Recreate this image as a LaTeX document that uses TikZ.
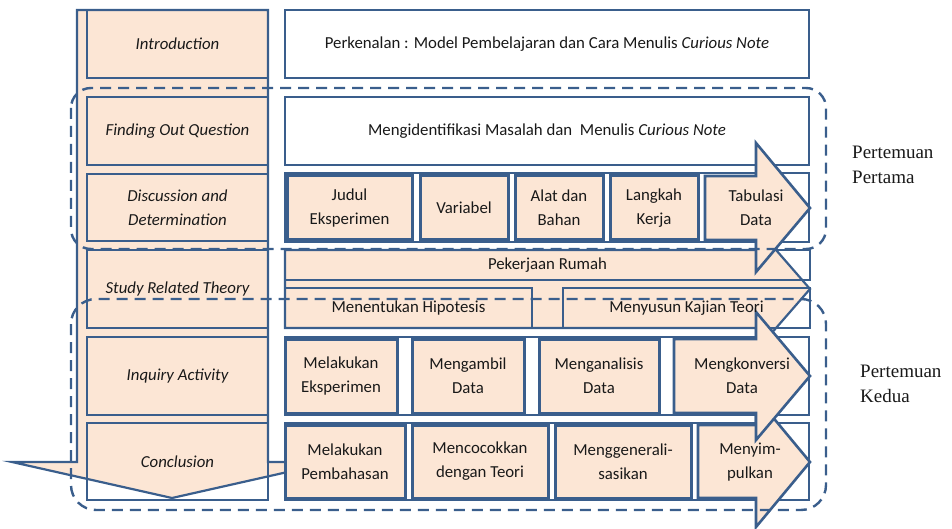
\documentclass[tikz,border=0pt]{standalone}
\usepackage{fontspec}
\setmainfont{Carlito}
\newfontfamily\serifside{Liberation Serif}
\definecolor{bl}{RGB}{58,94,140}
\definecolor{peach}{RGB}{252,230,213}
\definecolor{ink}{RGB}{25,25,25}
\begin{document}
\begin{tikzpicture}[x=1pt,y=-1pt,
  tx/.style={font=\fontsize{16.8}{24}\selectfont, text=ink, align=center, inner sep=0pt},
  ltx/.style={font=\fontsize{16.8}{24}\selectfont\itshape, text=ink, align=center, inner sep=0pt},
  lbox/.style={draw=bl, line width=2.8pt, minimum width=181pt, inner sep=0pt},
  wbox/.style={draw=bl, line width=2.4pt, fill=white, minimum width=524pt, inner sep=0pt},
  pbox/.style={draw=bl, line width=3pt, fill=peach, inner sep=0pt},
  obox/.style={draw=bl, line width=2.6pt, inner sep=0pt},
  arr/.style={draw=bl, line width=2.2pt, fill=peach, line join=miter},
  dbox/.style={draw=bl, line width=2.4pt, dash pattern=on 11pt off 7pt},
  side/.style={font=\serifside\fontsize{19}{25}\selectfont, text=ink, align=left, inner sep=0pt, anchor=west},
]
\useasboundingbox (0,0) rectangle (952,529);

% big down arrow (left column)
\draw[arr] (77,10) -- (268,10) -- (268,462) -- (332,462) -- (172,498) -- (12,462) -- (77,462) -- cycle;

% left boxes
\node[lbox, minimum height=68pt] (intro) at (177.5,44) {};
\node[lbox, minimum height=68pt] (find) at (177.5,131) {};
\node[lbox, minimum height=67pt] (disc) at (177.5,207.5) {};
\node[lbox, minimum height=78pt] (study) at (177.5,289) {};
\node[lbox, minimum height=78pt] (inq) at (177.5,376) {};
\node[lbox, minimum height=77pt] (concl) at (177.5,461.5) {};

% right white boxes / row outlines
\node[wbox, minimum height=68pt] (perk) at (547,44) {};
\node[wbox, minimum height=68pt] (ident) at (547,131) {};
\node[wbox, minimum height=69pt] (row3) at (547,207.5) {};
\node[wbox, minimum height=78pt] (row5) at (547,376) {};
\node[wbox, minimum height=77pt] (row6) at (547,461.5) {};

% row 4 (Study Related Theory)
\draw[arr] (285,250) -- (756,250) -- (756,227) -- (810,289) -- (756,351) -- (756,328) -- (285,328) -- cycle;
\node[obox, minimum width=525pt, minimum height=30pt] (pek) at (547.5,265) {};
\node[obox, minimum width=247pt, minimum height=40pt] (hip) at (408.5,308) {};
\node[obox, minimum width=247pt, minimum height=40pt] (kaj) at (686.5,308) {};

% row 6 (Conclusion)
\node[pbox, minimum width=120pt, minimum height=73pt] (r6a) at (345,461.5) {};
\node[pbox, minimum width=136pt, minimum height=73pt] (r6b) at (480,461.5) {};
\node[pbox, minimum width=136pt, minimum height=73pt] (r6c) at (623,461.5) {};
\draw[arr, line width=2.6pt] (698,425) -- (756,425) -- (756,397) -- (810,462) -- (756,527) -- (756,498) -- (698,498) -- cycle;

% row 5 (Inquiry Activity)
\node[pbox, minimum width=112pt, minimum height=74pt] (r5a) at (341,376) {};
\node[pbox, minimum width=112pt, minimum height=74pt] (r5b) at (468,376) {};
\node[pbox, minimum width=120pt, minimum height=74pt] (r5c) at (599,376) {};
\draw[arr, line width=2.6pt] (674,339) -- (756,339) -- (756,312) -- (810,376) -- (756,440) -- (756,413) -- (674,413) -- cycle;

% row 3 (Discussion and Determination)
\node[pbox, minimum width=125pt, minimum height=64pt] (r3a) at (349.5,208) {};
\node[pbox, minimum width=88pt, minimum height=64pt] (r3b) at (464,208) {};
\node[pbox, minimum width=88pt, minimum height=64pt] (r3c) at (559,208) {};
\node[pbox, minimum width=88pt, minimum height=64pt] (r3d) at (654,208) {};
\draw[arr, line width=2.6pt] (705,176) -- (756,176) -- (756,143) -- (810,208) -- (756,272) -- (756,240) -- (705,240) -- cycle;

% dashed groups
\draw[dbox, rounded corners=20pt] (71,88) rectangle (826,249);
\draw[dbox, rounded corners=25pt] (71,299) rectangle (826,510);

% texts
\node[ltx] (tintro) at (intro.center) {Introduction};
\node[ltx] (tfind) at (find.center) {Finding Out Question};
\node[ltx] (tdisc) at (disc.center) {Discussion and\\Determination};
\node[ltx] (tstudy) at (study.center) {Study Related Theory};
\node[ltx] (tinq) at (inq.center) {Inquiry Activity};
\node[ltx] (tconcl) at (concl.center) {Conclusion};

\node[tx] (tperk) at (perk.center) {Perkenalan : Model Pembelajaran dan Cara Menulis \textit{Curious Note}};
\node[tx] (tident) at (ident.center) {Mengidentifikasi Masalah dan\ \ Menulis \textit{Curious Note}};

\node[tx] (t3a) at (r3a.center) {Judul\\Eksperimen};
\node[tx] (t3b) at (r3b.center) {Variabel};
\node[tx] (t3c) at (r3c.center) {Alat dan\\Bahan};
\node[tx] (t3d) at (r3d.center) {Langkah\\Kerja};
\node[tx] (t3e) at (756,208) {Tabulasi\\Data};

\node[tx] (tpek) at (pek.center) {Pekerjaan Rumah};
\node[tx] (thip) at (hip.center) {Menentukan Hipotesis};
\node[tx] (tkaj) at (kaj.center) {Menyusun Kajian Teori};

\node[tx] (t5a) at (r5a.center) {Melakukan\\Eksperimen};
\node[tx] (t5b) at (r5b.center) {Mengambil\\Data};
\node[tx] (t5c) at (r5c.center) {Menganalisis\\Data};
\node[tx] (t5d) at (742,376) {Mengkonversi\\Data};

\node[tx] (t6a) at (r6a.center) {Melakukan\\Pembahasan};
\node[tx] (t6b) at (r6b.center) {Mencocokkan\\dengan Teori};
\node[tx] (t6c) at (r6c.center) {Menggenerali-\\sasikan};
\node[tx] (t6d) at (750,462) {Menyim-\\pulkan};

\node[side] (p1) at (852,164.5) {Pertemuan\\Pertama};
\node[side] (p2) at (860,383.5) {Pertemuan\\Kedua};
\end{tikzpicture}
\end{document}
